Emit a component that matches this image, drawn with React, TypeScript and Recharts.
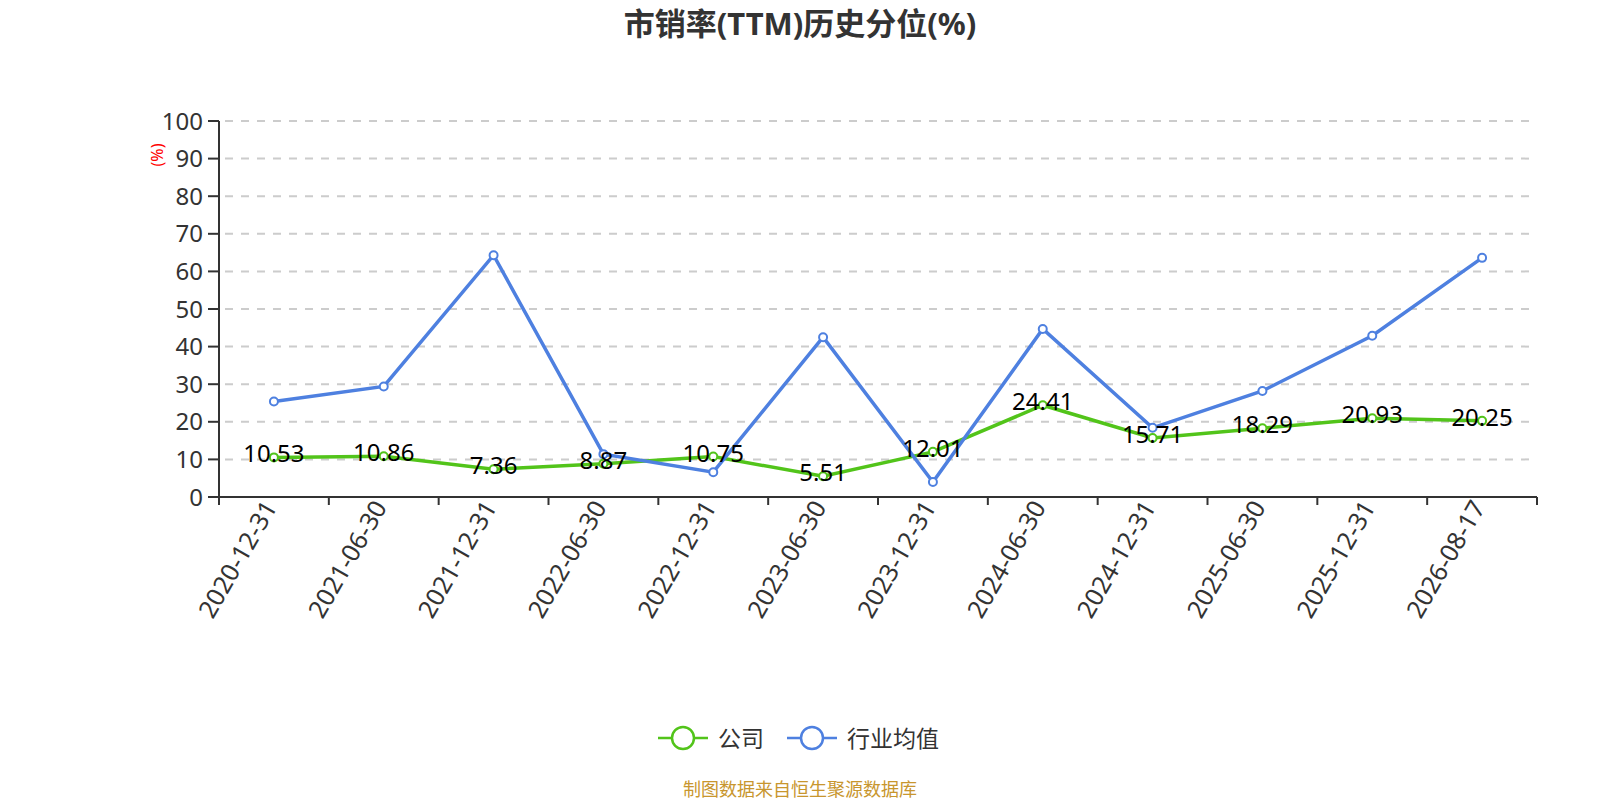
import React from 'react';
import { LineChart, Line, XAxis, YAxis, CartesianGrid, LabelList } from 'recharts';

const categories = [
  '2020-12-31', '2021-06-30', '2021-12-31', '2022-06-30', '2022-12-31', '2023-06-30',
  '2023-12-31', '2024-06-30', '2024-12-31', '2025-06-30', '2025-12-31', '2026-08-17',
];
const companyValues = [10.53, 10.86, 7.36, 8.87, 10.75, 5.51, 12.01, 24.41, 15.71, 18.29, 20.93, 20.25];
const industryValues = [25.4, 29.4, 64.3, 11.4, 6.6, 42.5, 4.0, 44.7, 18.4, 28.2, 42.9, 63.6];
const yTicks = [0, 10, 20, 30, 40, 50, 60, 70, 80, 90, 100];
const labelTicks = categories.map((_, i) => i);
const boundaryTicks = [...categories.map((_, i) => i - 0.5), categories.length - 0.5];

const seriesNames = { company: '公司', industry: '行业均值' };
const GREEN = '#52c41a';
const BLUE = '#4e80e0';
const FONT = "'Noto Sans', 'Noto Sans CJK SC', sans-serif";

const data = categories.map((date, i) => ({
  idx: i,
  date,
  company: companyValues[i],
  industry: industryValues[i],
}));

const NoTick = () => <g />;

const DateTick = (props: any) => {
  const { x, y, payload } = props;
  const ax = x + 4;
  const ay = y + 9;
  return (
    <text
      x={ax}
      y={ay}
      transform={`rotate(-60, ${ax}, ${ay})`}
      textAnchor="end"
      fill="#333"
      fontSize={25}
      fontFamily={FONT}
    >
      {categories[payload.value]}
    </text>
  );
};

const ValueLabel = (props: any) => {
  const { x, y, value } = props;
  return (
    <text x={x} y={y + 5} textAnchor="middle" fill="#000" fontSize={24} fontFamily={FONT}>
      {value}
    </text>
  );
};

const LegendItem = ({ cx, color, text }: { cx: number; color: string; text: string }) => (
  <g>
    <line x1={cx - 25} y1={738} x2={cx + 25} y2={738} stroke={color} strokeWidth={2.5} />
    <circle cx={cx} cy={738} r={11} fill="#fff" stroke={color} strokeWidth={2.5} />
    <text x={cx + 35} y={738} dominantBaseline="central" fontSize={23} fill="#333" fontFamily={FONT}>
      {text}
    </text>
  </g>
);

export default function App() {
  return (
    <div style={{ position: 'absolute', left: 0, top: 0, width: 1600, height: 800, background: '#fff' }}>
      <LineChart
        width={1600}
        height={800}
        data={data}
        margin={{ top: 121, right: 63, left: 0, bottom: 203 }}
      >
        <CartesianGrid
          xAxisId="main"
          vertical={false}
          stroke="#cccccc"
          strokeWidth={2}
          strokeDasharray="8 8"
          strokeDashoffset={-6}
        />
        <XAxis
          xAxisId="frame"
          type="number"
          dataKey="idx"
          domain={[-0.5, 11.5]}
          ticks={boundaryTicks}
          interval={0}
          height={1}
          tick={<NoTick />}
          tickSize={8}
          axisLine={{ stroke: '#333', strokeWidth: 2 }}
          tickLine={{ stroke: '#333', strokeWidth: 2 }}
        />
        <XAxis
          xAxisId="main"
          type="number"
          dataKey="idx"
          domain={[-0.5, 11.5]}
          ticks={labelTicks}
          interval={0}
          height={99}
          axisLine={false}
          tickLine={false}
          tickSize={0}
          tickMargin={0}
          tick={<DateTick />}
        />
        <YAxis
          type="number"
          domain={[0, 100]}
          ticks={yTicks}
          interval={0}
          width={219}
          tickSize={11}
          tickMargin={5}
          axisLine={{ stroke: '#333', strokeWidth: 2 }}
          tickLine={{ stroke: '#333', strokeWidth: 2 }}
          tick={{ fill: '#333', fontSize: 24, fontFamily: FONT }}
          label={{
            content: () => (
              <text
                x={157}
                y={155}
                transform="rotate(-90, 157, 155)"
                textAnchor="middle"
                dominantBaseline="central"
                fill="#ff0000"
                fontSize={16}
                fontFamily={FONT}
              >
                (%)
              </text>
            ),
          }}
        />
        <Line
          xAxisId="main"
          type="linear"
          dataKey="company"
          name={seriesNames.company}
          stroke={GREEN}
          strokeWidth={3.5}
          dot={{ r: 4, fill: '#fff', stroke: GREEN, strokeWidth: 2 }}
          activeDot={false}
          isAnimationActive={false}
        />
        <Line
          xAxisId="main"
          type="linear"
          dataKey="industry"
          name={seriesNames.industry}
          stroke={BLUE}
          strokeWidth={3.5}
          dot={{ r: 4, fill: '#fff', stroke: BLUE, strokeWidth: 2 }}
          activeDot={false}
          isAnimationActive={false}
        />
        <Line
          xAxisId="main"
          type="linear"
          dataKey="company"
          stroke="none"
          dot={false}
          activeDot={false}
          legendType="none"
          isAnimationActive={false}
        >
          <LabelList dataKey="company" content={<ValueLabel />} />
        </Line>
      </LineChart>
      <svg
        width={1600}
        height={800}
        style={{ position: 'absolute', left: 0, top: 0, pointerEvents: 'none' }}
      >
        <text
          x={800}
          y={23}
          textAnchor="middle"
          dominantBaseline="central"
          fontSize={31}
          fontWeight="bold"
          fill="#333"
          fontFamily={FONT}
        >
          市销率(TTM)历史分位(%)
        </text>
        <LegendItem cx={683} color={GREEN} text={seriesNames.company} />
        <LegendItem cx={812} color={BLUE} text={seriesNames.industry} />
        <text
          x={800}
          y={789}
          textAnchor="middle"
          dominantBaseline="central"
          fontSize={18}
          fill="#c8962e"
          fontFamily={FONT}
        >
          制图数据来自恒生聚源数据库
        </text>
      </svg>
    </div>
  );
}
